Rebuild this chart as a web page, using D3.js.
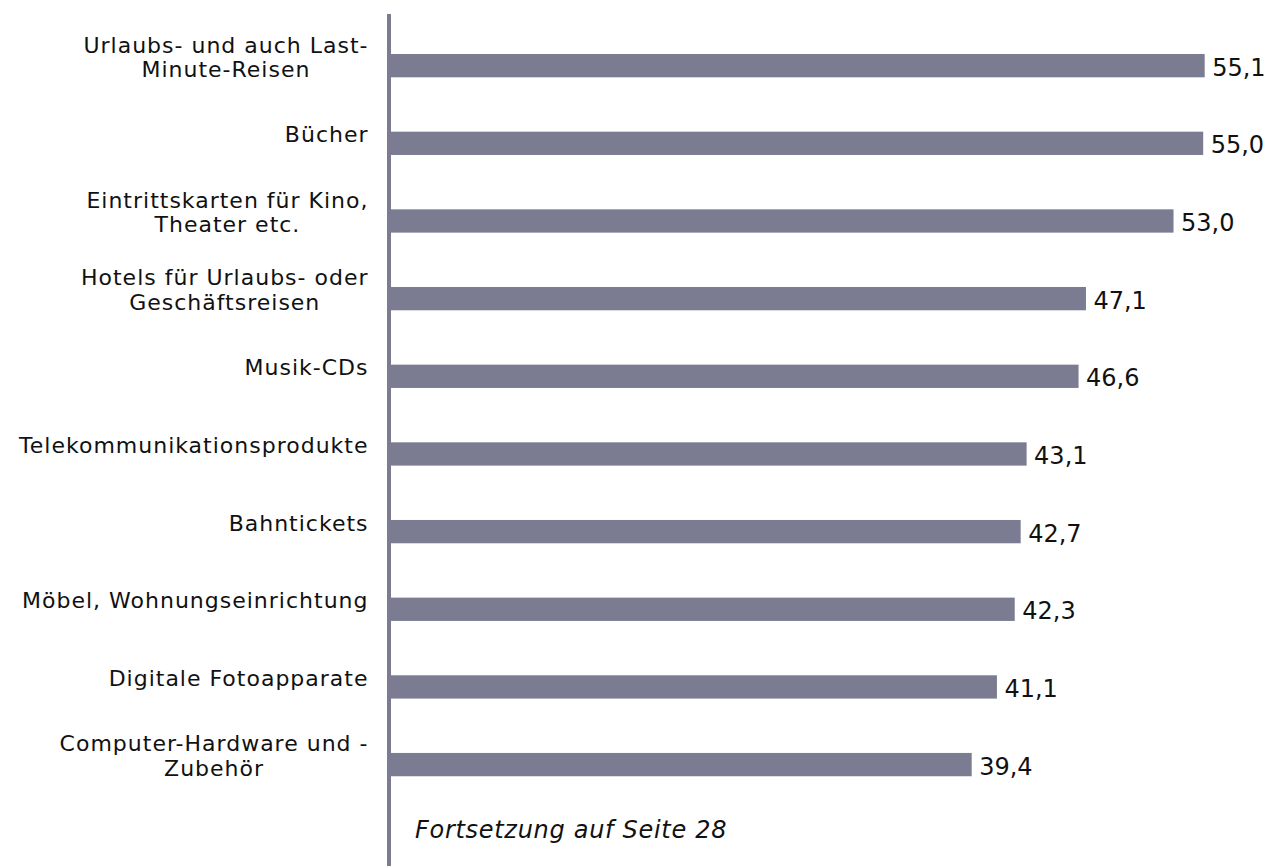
<!DOCTYPE html>
<html>
<head>
<meta charset="utf-8">
<script src="https://cdn.jsdelivr.net/npm/d3@7/dist/d3.min.js"></script>
<style>
  html, body { margin: 0; padding: 0; background: #ffffff; }
  svg { display: block; }
</style>
</head>
<body>
<svg id="chart" width="1266" height="866"></svg>
<script>
// ---- data ----
const categories = [
  ["Urlaubs- und auch Last-", "Minute-Reisen"],
  ["Bücher"],
  ["Eintrittskarten für Kino,", "Theater etc."],
  ["Hotels für Urlaubs- oder", "Geschäftsreisen"],
  ["Musik-CDs"],
  ["Telekommunikationsprodukte"],
  ["Bahntickets"],
  ["Möbel, Wohnungseinrichtung"],
  ["Digitale Fotoapparate"],
  ["Computer-Hardware und -", "Zubehör"]
];
const values = [55.1, 55.0, 53.0, 47.1, 46.6, 43.1, 42.7, 42.3, 41.1, 39.4];
const valueLabels = ["55,1", "55,0", "53,0", "47,1", "46,6", "43,1", "42,7", "42,3", "41,1", "39,4"];
const footnote = "Fortsetzung auf Seite 28";

// ---- layout ----
const barColor = "#7b7b92";
const font = "'DejaVu Sans', Verdana, sans-serif";
const svg = d3.select("#chart");

const ids = categories.map((c, i) => "c" + i);
const data = ids.map((id, i) => ({ id, lines: categories[i], value: values[i], label: valueLabels[i] }));

const x = d3.scaleLinear().domain([0, 60]).range([387, 387 + 60 * 14.84]);
const y = d3.scaleBand().domain(ids).range([26.83, 803.43]).paddingInner(0.7).paddingOuter(0.35);

// bars
svg.append("g").selectAll("rect").data(data).join("rect")
  .attr("x", x(0))
  .attr("y", d => y(d.id))
  .attr("width", d => x(d.value) - x(0))
  .attr("height", y.bandwidth())
  .attr("fill", barColor);

// axis line
svg.append("line")
  .attr("x1", 389).attr("x2", 389)
  .attr("y1", 14).attr("y2", 866)
  .attr("stroke", barColor).attr("stroke-width", 4);

// value labels
svg.append("g").selectAll("text").data(data).join("text")
  .attr("x", d => x(d.value) + 7.5)
  .attr("y", d => y(d.id) + y.bandwidth() / 2 + 10)
  .attr("font-family", font)
  .attr("font-size", 24)
  .attr("fill", "#111")
  .text(d => d.label);

// category labels (block centred, right edge at 368)
const rightEdge = 368;
const lineH = 24.3;
const ls = 1;
const labG = svg.append("g");
data.forEach(d => {
  const cy = y(d.id) + y.bandwidth() / 2;
  const n = d.lines.length;
  const g = labG.append("g");
  const texts = d.lines.map((ln, i) => g.append("text")
    .attr("font-family", font)
    .attr("font-size", 22)
    .attr("letter-spacing", ls)
    .attr("fill", "#111")
    .attr("text-anchor", "middle")
    .attr("y", cy - 1 + (i - (n - 1) / 2) * lineH)
    .text(ln));
  const maxW = d3.max(texts, t => t.node().getComputedTextLength()) - ls;
  texts.forEach(t => t.attr("x", rightEdge - maxW / 2));
});

// footnote
svg.append("text")
  .attr("x", 415).attr("y", 838)
  .attr("font-family", font)
  .attr("font-size", 24)
  .attr("font-style", "italic")
  .attr("letter-spacing", 0.7)
  .attr("fill", "#111")
  .text(footnote);
</script>
</body>
</html>
